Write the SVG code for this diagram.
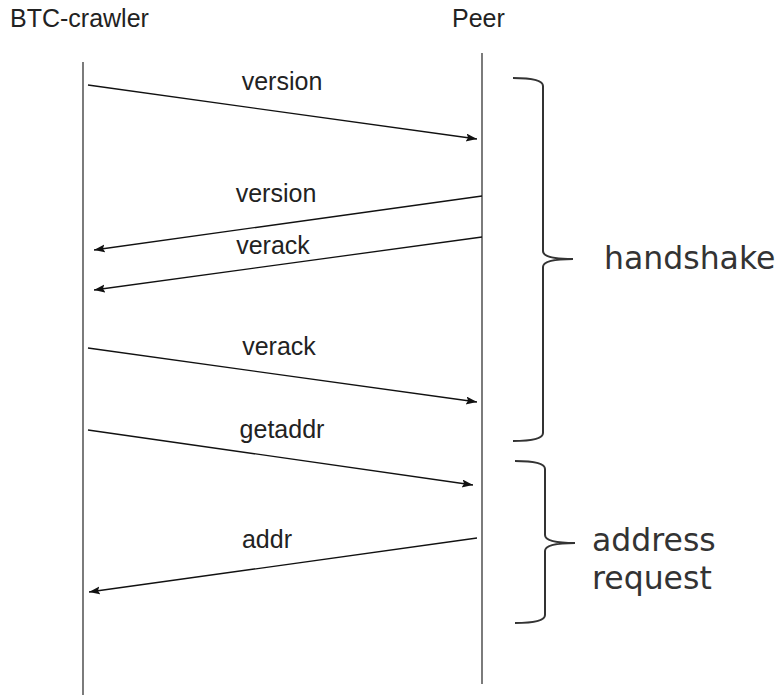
<svg xmlns="http://www.w3.org/2000/svg" width="780" height="695" viewBox="0 0 780 695">
  <style>
    .actor { font-family: "Liberation Sans", Arial, sans-serif; font-size: 25px; fill: #222; }
    .msg { font-family: "Liberation Sans", Arial, sans-serif; font-size: 25px; fill: #222; text-anchor: middle; }
    .phase { font-family: "DejaVu Sans", Verdana, sans-serif; font-size: 31.5px; fill: #333; }
    .lifeline { stroke: #444; stroke-width: 1.4; fill: none; }
    .arrow { stroke: #111; stroke-width: 1.3; fill: none; marker-end: url(#head); }
    .brace { stroke: #333; stroke-width: 2; fill: none; }
  </style>
  <defs>
    <marker id="head" markerUnits="userSpaceOnUse" markerWidth="12" markerHeight="10" refX="11" refY="4" orient="auto">
      <path d="M0,0 L11,4 L0,8 L2,4 Z" fill="#111"/>
    </marker>
  </defs>
  <rect width="780" height="695" fill="#fff"/>

  <!-- participants -->
  <g id="crawler">
    <text class="actor" x="10" y="27">BTC-crawler</text>
    <line class="lifeline" x1="83" y1="62" x2="83" y2="695"/>
  </g>
  <g id="peer">
    <text class="actor" x="452" y="27">Peer</text>
    <line class="lifeline" x1="482" y1="53" x2="482" y2="684"/>
  </g>

  <!-- messages -->
  <g id="connectors">
    <line class="arrow" x1="88" y1="85" x2="477" y2="139"/>
    <line class="arrow" x1="482" y1="196" x2="94" y2="250"/>
    <line class="arrow" x1="482" y1="237" x2="94" y2="290"/>
    <line class="arrow" x1="88" y1="348" x2="477" y2="402"/>
    <line class="arrow" x1="88" y1="430" x2="473" y2="485"/>
    <line class="arrow" x1="477" y1="538" x2="89" y2="592"/>
  </g>

  <g id="labels">
    <text class="msg" x="282" y="90">version</text>
    <text class="msg" x="276" y="202">version</text>
    <text class="msg" x="273" y="254">verack</text>
    <text class="msg" x="279" y="355">verack</text>
    <text class="msg" x="282" y="438">getaddr</text>
    <text class="msg" x="267" y="548">addr</text>
  </g>

  <!-- phase brackets -->
  <g id="handshake">
    <path class="brace" d="M513,78 Q543,78 543,86 L543,251 Q543,259 573,259 Q543,259 543,267 L543,433 Q543,441 513,441"/>
    <text class="phase" x="604" y="269">handshake</text>
  </g>
  <g id="address-request">
    <path class="brace" d="M515,461 Q545,461 545,469 L545,535 Q545,543 575,543 Q545,543 545,551 L545,615 Q545,623 515,623"/>
    <text class="phase" x="592" y="551">address</text>
    <text class="phase" x="592" y="589">request</text>
  </g>
</svg>
